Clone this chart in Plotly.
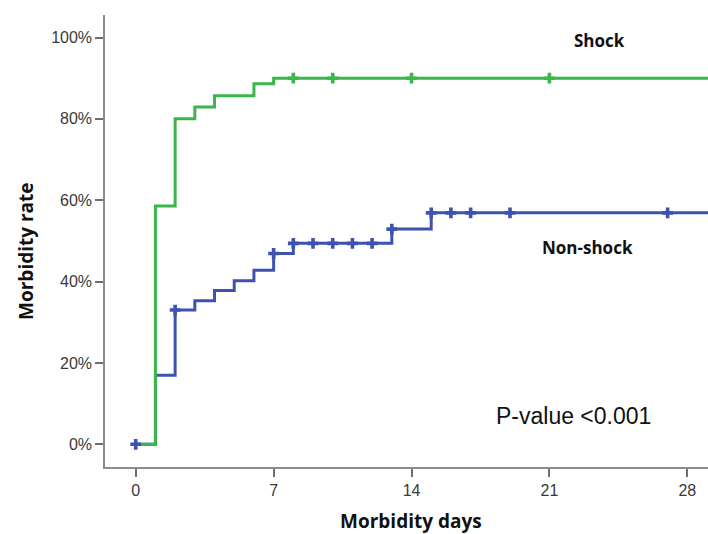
import numpy as np
import plotly.graph_objects as go

# ---- data ----
shock_days = [0, 1, 2, 3, 4, 6, 7]
shock_rate = [0, 58.6, 80.0, 82.9, 85.7, 88.6, 90.0]
shock_censor = [8, 10, 14, 21]

nonshock_days = [0, 1, 2, 3, 4, 5, 6, 7, 8, 13, 15]
nonshock_rate = [0, 17.0, 33.0, 35.3, 37.8, 40.2, 42.8, 46.9, 49.4, 52.9, 56.9]
nonshock_censor = [0, 2, 7, 8, 9, 10, 11, 12, 13, 15, 16, 17, 19, 27]

followup_end = 30
x_ticks = [0, 7, 14, 21, 28]
y_ticks = [0, 20, 40, 60, 80, 100]
y_ticklabels = ["0%", "20%", "40%", "60%", "80%", "100%"]

GREEN = "#3bb64a"
BLUE = "#3f52ae"


def step_value(days, rates, t):
    idx = np.searchsorted(np.asarray(days), t, side="right") - 1
    return float(np.asarray(rates)[idx])


fig = go.Figure()

for days, rates, color in [(nonshock_days, nonshock_rate, BLUE), (shock_days, shock_rate, GREEN)]:
    fig.add_trace(go.Scatter(
        x=list(days) + [followup_end], y=list(rates) + [rates[-1]],
        mode="lines", line=dict(shape="hv", color=color, width=3),
        hoverinfo="skip", showlegend=False))

for days, rates, cens, color in [(shock_days, shock_rate, shock_censor, GREEN),
                                 (nonshock_days, nonshock_rate, nonshock_censor, BLUE)]:
    fig.add_trace(go.Scatter(
        x=cens, y=[step_value(days, rates, c) for c in cens],
        mode="markers",
        marker=dict(symbol="cross", size=9, color=color, line=dict(width=0)),
        hoverinfo="skip", showlegend=False))

axis_common = dict(showline=True, linecolor="#8c8c8c", linewidth=1.5,
                   ticks="outside", tickcolor="#6e6e6e", tickwidth=1.5, ticklen=8,
                   showgrid=False, zeroline=False,
                   tickfont=dict(family="Liberation Sans, Arial, sans-serif", size=16, color="#3a3a3a"))

fig.update_xaxes(range=[-1.56, 29.05], tickvals=x_ticks, **axis_common)
fig.update_yaxes(range=[-5.58, 105.53], tickvals=y_ticks, ticktext=y_ticklabels, **axis_common)

title_font = dict(family="Open Sans, sans-serif", size=19, color="#111111")
label_font = dict(family="Open Sans, sans-serif", size=17, color="#111111")

fig.update_layout(
    width=708, height=534,
    margin=dict(l=105, r=0, t=15, b=67),
    paper_bgcolor="white", plot_bgcolor="white",
    annotations=[
        dict(text="<b>Morbidity days</b>", xref="paper", yref="paper", x=0.508, y=-0.12,
             xanchor="center", yanchor="middle", showarrow=False, font=title_font),
        dict(text="<b>Morbidity rate</b>", xref="paper", yref="paper", x=-0.131, y=0.478,
             xanchor="center", yanchor="middle", showarrow=False, textangle=-90, font=title_font),
        dict(text="<b>Shock</b>", xref="paper", yref="paper", x=(599 - 105) / 603, y=(467 - 41) / 452,
             xanchor="center", yanchor="middle", showarrow=False, font=label_font),
        dict(text="<b>Non-shock</b>", xref="paper", yref="paper", x=(587 - 105) / 603, y=(467 - 247) / 452,
             xanchor="center", yanchor="middle", showarrow=False, font=label_font),
        dict(text="P-value <0.001", xref="paper", yref="paper", x=(573 - 105) / 603, y=(467 - 416) / 452,
             xanchor="center", yanchor="middle", showarrow=False,
             font=dict(family="Liberation Sans, Arial, sans-serif", size=23, color="#111111")),
    ],
)

fig.write_html("out.html",
               config={"displayModeBar": False},
               post_script="document.body.style.margin='0';document.body.style.padding='0';")
